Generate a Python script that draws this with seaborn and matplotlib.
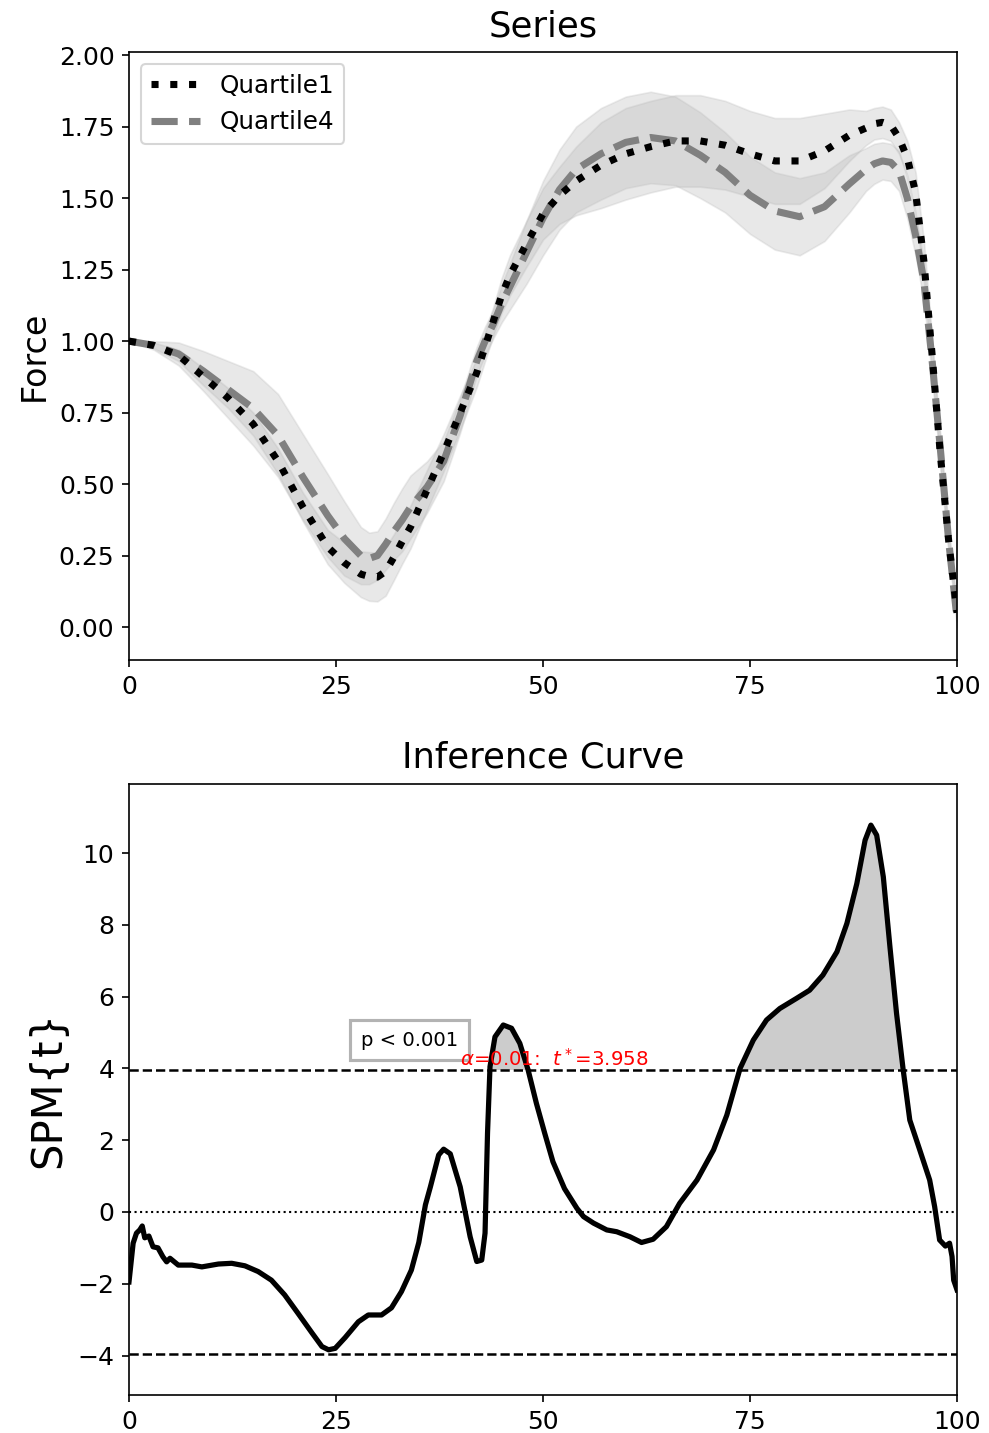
import numpy as np
import pandas as pd
import matplotlib
matplotlib.use("Agg")
import matplotlib.pyplot as plt
import seaborn as sns

# ---- data ----
x_pct = [0, 3, 6, 9, 12, 15, 18, 21, 24, 26, 28, 29, 30, 31, 32, 33, 34, 36, 38, 40,
         42, 43, 44, 45, 46, 48, 50, 52, 54, 57, 60, 63, 66, 69, 72, 75, 78, 81, 84,
         87, 89, 90, 91, 92, 93, 94, 95, 96, 97, 98, 99, 100]

q1_mean = [1.00, 0.985, 0.95, 0.875, 0.80, 0.71, 0.58, 0.42, 0.28, 0.225, 0.185, 0.177,
           0.175, 0.195, 0.245, 0.30, 0.35, 0.48, 0.61, 0.75, 0.89, 0.98, 1.07, 1.16,
           1.23, 1.34, 1.445, 1.51, 1.56, 1.615, 1.655, 1.68, 1.70, 1.70, 1.685, 1.655,
           1.63, 1.63, 1.665, 1.72, 1.745, 1.76, 1.765, 1.755, 1.71, 1.64, 1.52, 1.28,
           0.95, 0.60, 0.30, 0.05]
q1_sd = [0.0, 0.01, 0.02, 0.03, 0.035, 0.04, 0.045, 0.05, 0.06, 0.07, 0.08, 0.085,
         0.085, 0.085, 0.08, 0.078, 0.075, 0.07, 0.065, 0.06, 0.05, 0.05, 0.05, 0.06,
         0.07, 0.08, 0.09, 0.10, 0.12, 0.15, 0.16, 0.16, 0.16, 0.16, 0.155, 0.15,
         0.15, 0.15, 0.13, 0.09, 0.06, 0.055, 0.055, 0.055, 0.055, 0.06, 0.07, 0.07,
         0.06, 0.05, 0.04, 0.03]

q4_mean = [1.00, 0.985, 0.955, 0.895, 0.83, 0.765, 0.67, 0.525, 0.39, 0.31, 0.25, 0.24,
           0.25, 0.29, 0.335, 0.375, 0.42, 0.49, 0.58, 0.74, 0.93, 1.00, 1.06, 1.13,
           1.19, 1.31, 1.43, 1.53, 1.60, 1.655, 1.695, 1.712, 1.70, 1.65, 1.59, 1.51,
           1.455, 1.435, 1.47, 1.55, 1.60, 1.62, 1.63, 1.625, 1.595, 1.50, 1.37, 1.21,
           0.93, 0.62, 0.30, 0.03]
q4_sd = [0.0, 0.015, 0.04, 0.07, 0.10, 0.13, 0.145, 0.15, 0.145, 0.13, 0.10, 0.09,
         0.085, 0.09, 0.10, 0.11, 0.11, 0.09, 0.07, 0.06, 0.05, 0.05, 0.05, 0.065,
         0.08, 0.11, 0.13, 0.14, 0.15, 0.16, 0.16, 0.16, 0.155, 0.15, 0.14, 0.135,
         0.135, 0.135, 0.12, 0.10, 0.075, 0.07, 0.065, 0.065, 0.07, 0.07, 0.07, 0.07,
         0.06, 0.05, 0.04, 0.03]

spm_x = [0, 0.5, 0.9, 1.3, 1.6, 1.9, 2.4, 2.9, 3.5, 4.1, 4.55, 4.95, 5.95, 7.6, 8.8,
         10.8, 12.4, 14.0, 15.6, 17.2, 18.8, 20.4, 22.1, 23.3, 24.1, 24.9, 26.1, 27.7,
         28.9, 30.5, 31.7, 32.9, 34.1, 35.0, 35.8, 36.4, 37.4, 38.0, 38.8, 40.0, 41.2,
         42.0, 42.6, 43.0, 43.3, 43.6, 44.2, 45.2, 46.2, 47.2, 48.2, 49.2, 50.2, 51.2,
         52.6, 54.1, 54.9, 56.1, 57.7, 58.9, 60.5, 61.9, 63.3, 64.9, 66.5, 68.6, 70.6,
         72.2, 73.8, 75.4, 77.0, 78.6, 80.6, 82.2, 83.8, 85.5, 86.7, 87.9, 88.9, 89.6,
         90.3, 91.1, 91.9, 92.7, 93.5, 94.3, 95.5, 96.7, 97.3, 97.9, 98.6, 99.1, 99.4,
         99.6, 100]
spm_t = [-1.95, -0.87, -0.59, -0.50, -0.39, -0.72, -0.67, -0.97, -1.0, -1.25, -1.39,
         -1.29, -1.48, -1.48, -1.53, -1.45, -1.43, -1.5, -1.66, -1.9, -2.31, -2.82,
         -3.37, -3.75, -3.84, -3.8, -3.5, -3.06, -2.87, -2.87, -2.67, -2.22, -1.62,
         -0.85, 0.2, 0.70, 1.59, 1.75, 1.62, 0.70, -0.69, -1.38, -1.34, -0.59, 2.2,
         4.05, 4.88, 5.21, 5.12, 4.70, 3.96, 3.03, 2.2, 1.4, 0.65, 0.10, -0.13, -0.31,
         -0.50, -0.55, -0.69, -0.85, -0.76, -0.41, 0.24, 0.89, 1.73, 2.70, 4.0, 4.79,
         5.35, 5.67, 5.95, 6.18, 6.60, 7.25, 8.04, 9.15, 10.36, 10.78, 10.5, 9.34, 7.39,
         5.53, 3.96, 2.56, 1.73, 0.89, 0.15, -0.78, -0.95, -0.87, -1.24, -1.9, -2.17]

t_star = 3.958
alpha_level = 0.01
p_text = "p < 0.001"

# ---- figure ----
W, H, DPI = 989, 1433, 150
fig = plt.figure(figsize=(W / DPI, H / DPI), dpi=DPI)
ax1 = fig.add_axes([129 / W, 1 - 660 / H, 828 / W, (660 - 51.7) / H])
ax2 = fig.add_axes([129 / W, 1 - 1395 / H, 828 / W, (1395 - 783.5) / H])

df = pd.DataFrame({"x": x_pct, "q1": q1_mean, "q1_sd": q1_sd,
                   "q4": q4_mean, "q4_sd": q4_sd})

# series panel
for col in ["q1", "q4"]:
    ax1.fill_between(df["x"], df[col] - df[col + "_sd"], df[col] + df[col + "_sd"],
                     color="0.7", alpha=0.3, edgecolor="0.75", linewidth=0.8, zorder=1)
sns.lineplot(data=df, x="x", y="q1", ax=ax1, color="k", linestyle=":", lw=3.4,
             label="Quartile1", zorder=3)
sns.lineplot(data=df, x="x", y="q4", ax=ax1, color="0.5", linestyle="--", lw=3.4,
             label="Quartile4", zorder=2)
ax1.set_xlim(0, 100)
ax1.set_ylim(-0.115, 2.012)
ax1.set_xticks([0, 25, 50, 75, 100])
ax1.set_yticks(np.arange(0, 2.01, 0.25))
ax1.set_xlabel("")
ax1.set_ylabel("Force", fontsize=16)
ax1.set_title("Series", fontsize=17, pad=7.5)
ax1.legend(loc="upper left", fontsize=11.8)

# inference panel
tx = np.array(spm_x)
tt = np.array(spm_t)
ax2.fill_between(tx, t_star, tt, where=tt > t_star, interpolate=True,
                 color="0.8", linewidth=0, zorder=1)
sns.lineplot(x=tx, y=tt, ax=ax2, color="k", lw=2.5, zorder=3)
ax2.axhline(t_star, color="k", ls="--", lw=1.2, zorder=2)
ax2.axhline(-t_star, color="k", ls="--", lw=1.2, zorder=2)
ax2.axhline(0, color="k", ls=":", lw=1.0, zorder=2)
ax2.text(33.9, 4.79, p_text, fontsize=9.4, ha="center", va="center",
         bbox=dict(boxstyle="square,pad=0.55", facecolor="white", edgecolor="0.7", lw=1.5))
ax2.text(40, 4.08, r"$\alpha$=%.2f:  $t^*$=%.3f" % (alpha_level, t_star),
         color="r", fontsize=9.5)
ax2.set_xlim(0, 100)
ax2.set_ylim(-5.1, 11.94)
ax2.set_xticks([0, 25, 50, 75, 100])
ax2.set_yticks([-4, -2, 0, 2, 4, 6, 8, 10])
ax2.set_ylabel("SPM{t}", fontsize=20)
ax2.set_title("Inference Curve", fontsize=17, pad=7.5)

for ax in (ax1, ax2):
    ax.tick_params(labelsize=12)

fig.savefig("out.png", dpi=DPI)
